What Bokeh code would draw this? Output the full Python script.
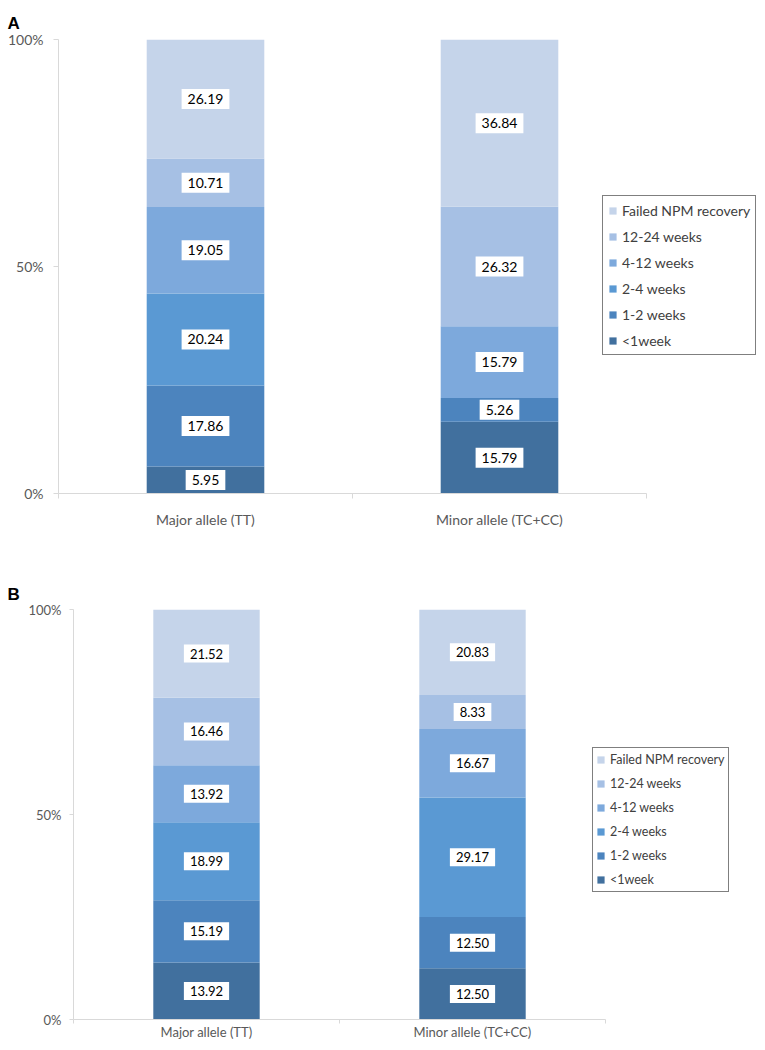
from bokeh.plotting import figure
from bokeh.models import (ColumnDataSource, Range1d, FixedTicker, PrintfTickFormatter,
                          Legend, LegendItem, Title)
from bokeh.embed import file_html
from bokeh.resources import INLINE
from bokeh.core.properties import value

categories = ["Major allele (TT)", "Minor allele (TC+CC)"]
series = ["<1week", "1-2 weeks", "2-4 weeks", "4-12 weeks", "12-24 weeks", "Failed NPM recovery"]
colors = ["#41709E", "#4C84BE", "#5A99D3", "#7DA9DC", "#A6C0E4", "#C5D4EA"]

# Panel A values (percent), per series: [Major, Minor]
a_lt1 = [5.95, 15.79]
a_1_2 = [17.86, 5.26]
a_2_4 = [20.24, 0.0]
a_4_12 = [19.05, 15.79]
a_12_24 = [10.71, 26.32]
a_failed = [26.19, 36.84]

# Panel B values
b_lt1 = [13.92, 12.50]
b_1_2 = [15.19, 12.50]
b_2_4 = [18.99, 29.17]
b_4_12 = [13.92, 16.67]
b_12_24 = [16.46, 8.33]
b_failed = [21.52, 20.83]

y_ticks = [0, 50, 100]
FONT = "Lato"


def make_panel(vals, letter, width, height, bl, bt, bb, cat_px, sizes, legend_cfg,
               letter_off, title_standoff, xstand, ystand, tick_out):
    ncat = len(categories)
    xs = [i + 0.5 for i in range(ncat)]
    data = {"x": xs}
    keys = []
    for i, v in enumerate(vals):
        k = "s%d" % i
        data[k] = v
        keys.append(k)
    src = ColumnDataSource(data)
    frame_w = width - bl
    p = figure(x_range=Range1d(0, frame_w / cat_px), y_range=Range1d(0, 100),
               width=width, height=height, output_backend="svg", toolbar_location=None)
    p.min_border_left = bl
    p.min_border_right = 0
    p.min_border_top = bt
    p.min_border_bottom = bb
    p.outline_line_color = None
    p.grid.visible = False
    p.background_fill_color = "white"
    rends = p.vbar_stack(keys, x="x", width=0.4, color=colors, source=src, line_color=None)

    # data labels
    lx, ly, lt = [], [], []
    for j in range(ncat):
        cum = 0.0
        for v in vals:
            val = v[j]
            if val > 0:
                lx.append(xs[j])
                ly.append(cum + val / 2.0)
                lt.append("%.2f" % val)
            cum += val
    lsrc = ColumnDataSource(dict(x=lx, y=ly, t=lt))
    p.text(x="x", y="y", text="t", source=lsrc, text_align="center", text_baseline="middle",
           text_font=value(FONT), text_font_size=sizes["data"], text_color="#000000",
           background_fill_color="white", padding=sizes["pad"])

    # axes
    p.yaxis.ticker = FixedTicker(ticks=y_ticks)
    p.yaxis.formatter = PrintfTickFormatter(format="%d%%")
    p.xaxis.ticker = FixedTicker(ticks=xs, minor_ticks=list(range(ncat + 1)))
    p.xaxis.major_label_overrides = {x: c for x, c in zip(xs, categories)}
    p.xaxis.bounds = (0, ncat)
    for ax in (p.xaxis[0], p.yaxis[0]):
        ax.axis_line_color = "#D9D9D9"
        ax.major_tick_line_color = "#D9D9D9"
        ax.major_label_text_color = "#595959"
        ax.major_label_text_font = FONT
        ax.major_label_text_font_size = sizes["axis"]
    p.yaxis.minor_tick_line_color = None
    p.yaxis.major_tick_out = tick_out
    p.yaxis.major_tick_in = 0
    p.yaxis.major_label_standoff = ystand
    p.xaxis.major_tick_out = 0
    p.xaxis.major_tick_in = 0
    p.xaxis.minor_tick_line_color = "#D9D9D9"
    p.xaxis.minor_tick_out = tick_out
    p.xaxis.minor_tick_in = 0
    p.xaxis.major_label_standoff = xstand

    items = [LegendItem(label=series[i], renderers=[rends[i]]) for i in range(len(series) - 1, -1, -1)]
    leg = Legend(items=items, location=legend_cfg["loc"], orientation="vertical")
    leg.label_text_font = FONT
    leg.label_text_font_size = sizes["legend"]
    leg.label_text_color = "#404040"
    leg.glyph_width = 9
    leg.glyph_height = 9
    leg.label_height = legend_cfg["lh"]
    leg.spacing = legend_cfg["sp"]
    leg.padding = legend_cfg["pad"]
    leg.margin = 0
    leg.label_standoff = 5
    leg.border_line_color = "#000000"
    leg.border_line_width = 1.8
    leg.background_fill_color = "white"
    leg.background_fill_alpha = 1.0
    p.add_layout(leg, "center")

    t = Title(text=letter, align="left", offset=letter_off, standoff=title_standoff,
              text_font="Liberation Sans", text_font_style="bold", text_font_size="17px",
              text_color="#000000")
    p.add_layout(t, "above")
    return p


pA = make_panel([a_lt1, a_1_2, a_2_4, a_4_12, a_12_24, a_failed], "A",
                width=760, height=560, bl=58, bt=39, bb=67, cat_px=294,
                sizes={"data": "14px", "axis": "14px", "legend": "14px", "pad": (6, 5)},
                legend_cfg={"loc": (544, 138), "lh": 18, "sp": 8, "pad": 5},
                letter_off=-51, title_standoff=13, xstand=12, ystand=10, tick_out=5)

pB = make_panel([b_lt1, b_1_2, b_2_4, b_4_12, b_12_24, b_failed], "B",
                width=760, height=482, bl=73, bt=49, bb=21, cat_px=266,
                sizes={"data": "13px", "axis": "13px", "legend": "12.5px", "pad": (6, 4)},
                legend_cfg={"loc": (519, 127), "lh": 17, "sp": 7, "pad": 3},
                letter_off=-66, title_standoff=11, xstand=0, ystand=8, tick_out=4)

open("out.html", "w").write(file_html([pA, pB], INLINE))
